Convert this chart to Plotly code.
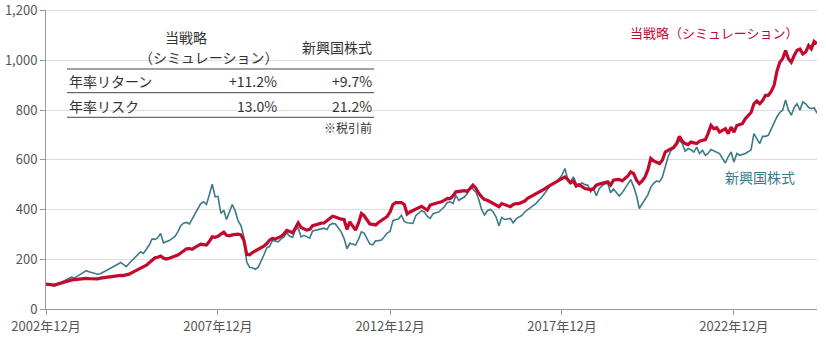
import plotly.graph_objects as go
import pandas as pd

# Monthly index values (Dec 2002 = 100), Dec 2002 .. May 2025
start_month = "2002-12-01"

strategy = [
    100, 99, 97, 96, 100, 104, 108, 111, 115, 117, 118, 120,
    121, 122, 123, 122, 121, 120, 121, 124, 126, 128, 130, 132,
    133, 134, 135, 134, 136, 140, 146, 152, 160, 165, 170, 176,
    186, 195, 206, 208, 213, 205, 201, 204, 208, 212, 217, 225,
    233, 242, 243, 240, 248, 256, 261, 259, 257, 272, 290, 288,
    292, 301, 309, 296, 294, 298, 301, 301, 298, 277, 220, 218,
    227, 233, 240, 247, 253, 262, 277, 284, 281, 287, 292, 302,
    316, 312, 306, 325, 346, 328, 322, 317, 320, 335, 338, 343,
    345, 346, 355, 365, 373, 370, 365, 361, 360, 320, 350, 335,
    317, 345, 384, 375, 360, 342, 340, 338, 348, 357, 365, 372,
    390, 420, 428, 427, 428, 420, 382, 390, 395, 400, 406, 413,
    405, 397, 418, 422, 424, 428, 431, 438, 444, 444, 455, 471,
    472, 473, 476, 472, 484, 498, 486, 465, 451, 440, 437, 430,
    424, 415, 411, 424, 420, 415, 411, 420, 424, 424, 428, 434,
    445, 451, 458, 464, 470, 475, 483, 491, 498, 504, 512, 518,
    527, 531, 520, 507, 515, 494, 500, 492, 484, 482, 480, 484,
    498, 502, 505, 508, 511, 498, 518, 520, 521, 515, 524, 535,
    551, 544, 518, 504, 515, 531, 560, 605, 595, 591, 585, 598,
    631, 638, 643, 650, 665, 694, 675, 665, 661, 671, 668, 665,
    675, 678, 681, 705, 738, 725, 729, 711, 718, 725, 705, 731,
    711, 738, 742, 745, 765, 778, 790, 825, 836, 825, 838, 859,
    859, 875, 900, 955, 992, 1006, 1039, 1006, 992, 1019, 1040, 1045,
    1025, 1033, 1059, 1046, 1076, 1066,
]

emerging = [
    100, 98, 95, 93, 98, 105, 110, 116, 124, 128, 125, 132,
    140, 147, 154, 150, 146, 142, 140, 142, 148, 154, 160, 165,
    172, 180, 187, 178, 170, 183, 195, 205, 218, 230, 223, 240,
    257, 282, 280, 286, 304, 266, 270, 275, 283, 292, 310, 335,
    345, 348, 342, 360, 384, 405, 424, 431, 420, 460, 502, 451,
    453, 384, 397, 360, 395, 420, 395, 355, 335, 290, 190, 167,
    166, 160, 168, 195, 217, 245, 252, 275, 272, 270, 282, 290,
    306, 292, 288, 318, 326, 290, 296, 290, 285, 314, 316, 317,
    322, 325, 320, 338, 344, 342, 328, 310, 284, 242, 264, 260,
    257, 280, 310, 305, 280, 261, 258, 274, 275, 277, 290, 305,
    312, 355, 360, 362, 377, 352, 347, 346, 344, 375, 385, 395,
    390, 372, 364, 382, 387, 390, 400, 411, 428, 431, 424, 457,
    437, 445, 451, 464, 488, 482, 470, 440, 400, 378, 395, 400,
    390, 370, 335, 368, 360, 362, 364, 346, 362, 370, 376, 390,
    400, 408, 417, 425, 437, 450, 465, 482, 498, 505, 511, 525,
    538, 565, 520, 511, 531, 504, 492, 507, 500, 498, 470, 484,
    455, 485, 495, 504, 505, 467, 482, 470, 454, 467, 483, 500,
    520, 492, 455, 404, 422, 442, 460, 490, 505, 515, 511, 530,
    571, 612, 638, 645, 660, 678, 665, 635, 645, 640, 631, 651,
    625, 638, 618, 625, 641, 636, 631, 625, 605, 587, 612, 631,
    591, 625, 618, 620, 625, 632, 640, 705, 685, 665, 694, 694,
    698, 725, 745, 772, 790, 799, 840, 800, 779, 810, 825, 799,
    832, 825, 810, 805, 809, 787,
]

tick_dates = ["2002-12-01", "2007-12-01", "2012-12-01", "2017-12-01", "2022-12-01"]
tick_labels = ["2002年12月", "2007年12月", "2012年12月", "2017年12月", "2022年12月"]

y_ticks = [0, 200, 400, 600, 800, 1000, 1200]

table_header = ["当戦略", "（シミュレーション）", "新興国株式"]
table_rows = ["年率リターン", "年率リスク"]
table_strategy = ["+11.2%", "13.0%"]
table_emerging = ["+9.7%", "21.2%"]
table_note = "※税引前"

series_names = ["当戦略（シミュレーション）", "新興国株式"]

RED = "#c20a2f"
TEAL = "#3b7a8b"
GRID = "#dedede"
FONT = "Noto Sans CJK JP"

dates = pd.date_range(start_month, periods=len(strategy), freq="MS")

fig = go.Figure()
fig.add_trace(go.Scatter(x=dates, y=emerging, mode="lines", name=series_names[1],
                         line=dict(color=TEAL, width=1.6)))
fig.add_trace(go.Scatter(x=dates, y=strategy, mode="lines", name=series_names[0],
                         line=dict(color=RED, width=3.2)))

W, H = 826, 338
L, R, T, B = 46, 9, 10, 29
pw, ph = W - L - R, H - T - B


def px(xp):
    return (xp - L) / pw


def py(yp):
    return (H - B - yp) / ph


annotations = []
shapes = []
txt = dict(family=FONT, size=14, color="#333")

# summary table
annotations.append(dict(x=px(163), y=py(37), text=table_header[0], xanchor="left",
                        yanchor="middle", showarrow=False, font=txt))
annotations.append(dict(x=px(280), y=py(57), text=table_header[1], xanchor="right",
                        yanchor="middle", showarrow=False, font=txt))
annotations.append(dict(x=px(374), y=py(47), text=table_header[2], xanchor="right",
                        yanchor="middle", showarrow=False, font=txt))
row_y = [81, 106]
for i, label in enumerate(table_rows):
    annotations.append(dict(x=px(67), y=py(row_y[i]), text=label, xanchor="left",
                            yanchor="middle", showarrow=False, font=txt))
    annotations.append(dict(x=px(279), y=py(row_y[i]), text=table_strategy[i], xanchor="right",
                            yanchor="middle", showarrow=False, font=txt))
    annotations.append(dict(x=px(374), y=py(row_y[i]), text=table_emerging[i], xanchor="right",
                            yanchor="middle", showarrow=False, font=txt))
annotations.append(dict(x=px(374), y=py(128), text=table_note, xanchor="right", yanchor="middle",
                        showarrow=False, font=dict(family=FONT, size=12, color="#333")))
for yl in [69, 92.7, 117.3]:
    shapes.append(dict(type="line", xref="paper", yref="paper", x0=px(67), x1=px(374),
                       y0=py(yl), y1=py(yl), line=dict(color="#444", width=1)))

# top gridline (the edge gridline is suppressed by plotly)
shapes.append(dict(type="line", xref="paper", yref="y", x0=0, x1=1,
                   y0=y_ticks[-1], y1=y_ticks[-1], layer="below",
                   line=dict(color=GRID, width=1)))

# series labels
annotations.append(dict(x=px(800), y=py(33), text=series_names[0], xanchor="right",
                        yanchor="middle", showarrow=False,
                        font=dict(family=FONT, size=13, color=RED)))
annotations.append(dict(x=px(797), y=py(177), text=series_names[1], xanchor="right",
                        yanchor="middle", showarrow=False,
                        font=dict(family=FONT, size=14, color=TEAL)))

for a in annotations:
    a.setdefault("xref", "paper")
    a.setdefault("yref", "paper")

fig.update_layout(
    width=W, height=H,
    margin=dict(l=L, r=R, t=T, b=B, autoexpand=False),
    paper_bgcolor="white", plot_bgcolor="white",
    showlegend=False,
    font=dict(family=FONT, size=13, color="#555"),
    annotations=annotations,
    shapes=shapes,
)
fig.update_xaxes(
    type="date",
    range=[dates[0], dates[-1]],
    tickvals=tick_dates, ticktext=tick_labels,
    showgrid=False, showline=True, linecolor="#9a9a9a", linewidth=1,
    ticks="outside", ticklen=5, tickcolor="#9a9a9a",
    tickfont=dict(family=FONT, size=13, color="#555"),
    automargin=False,
)
fig.update_yaxes(
    range=[0, 1202],
    tickvals=y_ticks, tickformat=",",
    showgrid=True, gridcolor=GRID, gridwidth=1,
    showline=True, linecolor="#9a9a9a", linewidth=1,
    ticks="outside", ticklen=5, tickcolor="#9a9a9a",
    zeroline=False,
    ticklabeloverflow="allow",
    tickfont=dict(family=FONT, size=13, color="#555"),
    automargin=False,
)

fig.write_html("out.html")
